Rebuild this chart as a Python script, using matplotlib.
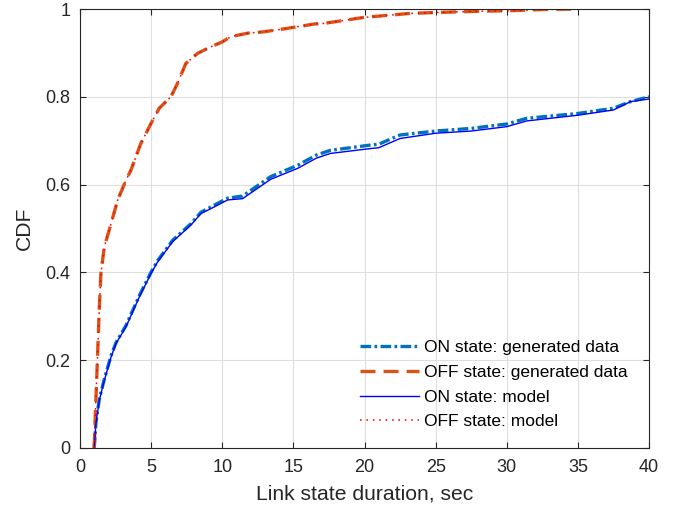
import matplotlib
matplotlib.use("Agg")
import matplotlib.pyplot as plt

# ON state: duration (sec) vs CDF
on_x = [1, 1.12, 1.36, 1.71, 2.18, 2.53, 3.23, 4.17, 5.0, 5.46, 6.51, 7.8, 8.5,
        9.43, 10.37, 11.43, 13.4, 15.3, 16.6, 17.6, 20.4, 21.0, 22.5, 25, 27.5,
        30, 31.4, 35, 37.5, 38.7, 40]
on_model = [0, 0.056, 0.109, 0.154, 0.207, 0.238, 0.276, 0.344, 0.398, 0.424,
            0.470, 0.508, 0.534, 0.549, 0.565, 0.568, 0.612, 0.637, 0.660, 0.671,
            0.682, 0.684, 0.705, 0.717, 0.722, 0.732, 0.745, 0.758, 0.770, 0.789,
            0.795]
on_gen = [0, 0.058, 0.112, 0.157, 0.210, 0.240, 0.279, 0.347, 0.401, 0.427,
          0.473, 0.511, 0.537, 0.553, 0.569, 0.574, 0.618, 0.644, 0.667, 0.678,
          0.690, 0.692, 0.713, 0.722, 0.728, 0.738, 0.751, 0.762, 0.774, 0.789,
          0.800]

# OFF state
off_x = [1, 1.08, 1.24, 1.36, 1.47, 1.71, 2.18, 2.65, 3.18, 3.58, 4.28, 4.99,
         5.57, 6.39, 6.86, 7.44, 8.27, 9.2, 10.0, 10.6, 11.8, 12.9, 14.6, 16.5,
         17.1, 20, 23.2, 25, 28.2, 30, 32.8, 35]
off_model = [0, 0.078, 0.215, 0.321, 0.398, 0.458, 0.511, 0.565, 0.606, 0.633,
             0.694, 0.739, 0.774, 0.800, 0.831, 0.876, 0.899, 0.914, 0.925, 0.937,
             0.945, 0.948, 0.956, 0.966, 0.967, 0.981, 0.990, 0.992, 0.995, 0.996,
             0.999, 1.0]
off_gen = list(off_model)

labels = ["ON state: generated data", "OFF state: generated data",
          "ON state: model", "OFF state: model"]

plt.rcParams['font.family'] = ['Liberation Sans', 'DejaVu Sans']
plt.rcParams['lines.scale_dashes'] = False

fig = plt.figure(figsize=(6.83, 5.12), dpi=100)
ax = fig.add_axes([80 / 683, 1 - 448 / 512, 569 / 683, 439 / 512])

ax.plot(on_x, on_gen, color='#0072BD', lw=2.4, dashes=(7.7, 2.4, 1.9, 2.4),
        label=labels[0])
ax.plot(off_x, off_gen, color='#D95319', lw=2.4, dashes=(10.8, 5.8),
        label=labels[1])
ax.plot(on_x, on_model, color='#0000FF', lw=1.0, label=labels[2])
ax.plot(off_x, off_model, color='#FF0000', lw=1.1, dashes=(1.2, 3.4),
        label=labels[3])

ax.set_xlim(0, 40)
ax.set_ylim(0, 1)
ax.set_xticks(range(0, 41, 5))
ax.set_yticks([0, 0.2, 0.4, 0.6, 0.8, 1])
ax.set_yticklabels(['0', '0.2', '0.4', '0.6', '0.8', '1'])
ax.grid(True, color='#dedede', lw=0.8)
ax.set_axisbelow(True)
ax.tick_params(direction='in', top=True, right=True, length=4, width=0.8,
               colors='#262626', labelsize=13)
ax.tick_params(axis='x', pad=8)
ax.tick_params(axis='y', pad=7)
for s in ax.spines.values():
    s.set_color('#262626')
    s.set_linewidth(0.8)

ax.set_xlabel('Link state duration, sec', fontsize=15.2, color='#262626',
              labelpad=6)
ax.set_ylabel('CDF', fontsize=15.2, color='#262626', labelpad=8)

ax.legend(loc='upper left', bbox_to_anchor=(348 / 683, 1 - 328 / 512),
          bbox_transform=fig.transFigure, frameon=False, fontsize=12.5,
          handlelength=3.4, handletextpad=0.3, labelspacing=0.55,
          borderpad=0.2)

fig.savefig('out.png', dpi=100)
